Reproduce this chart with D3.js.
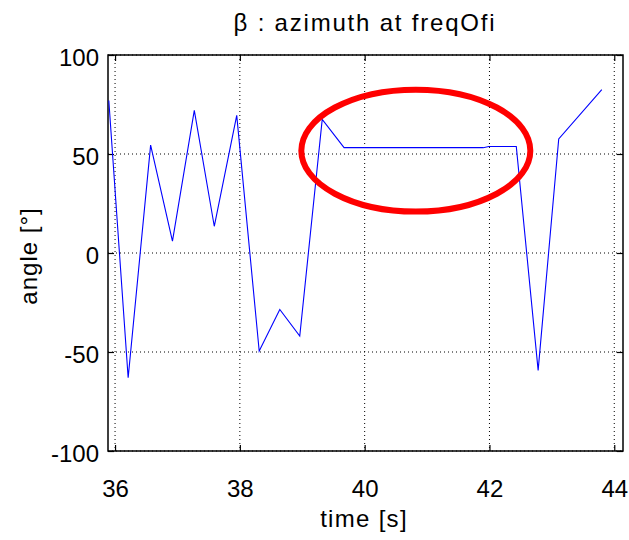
<!DOCTYPE html>
<html><head><meta charset="utf-8">
<script src="https://cdn.jsdelivr.net/npm/d3@7"></script>
<style>body{margin:0;background:#fff}svg{display:block}text{font-family:"Liberation Sans",Arial,sans-serif;fill:#000}</style>
</head><body><svg id="c" width="629" height="540"></svg>
<script>
const times  = [35.9, 36.21, 36.57, 36.92, 37.27, 37.59, 37.95, 38.31, 38.64, 38.96, 39.32, 39.67, 41.90, 41.99, 42.43, 42.78, 43.11, 43.80];
const angles = [77, -63, 54.5, 6, 72, 13.5, 69.5, -49.5, -28.5, -42, 67.5, 53.2, 53.2, 53.8, 53.8, -59.3, 57.6, 82.5];
const xTicks = [36, 38, 40, 42, 44];
const yTicks = [-100, -50, 0, 50, 100];
const highlight = {t: 40.82, v: 51.7, rt: 1.835, rv: 30.8};

const svg = d3.select("#c");
const L = 108, R = 623, T = 55, B = 451;
const x = d3.scaleLinear().domain([35.887, 44.14]).range([L, R]);
const y = d3.scaleLinear().domain([-100, 100]).range([B, T]);
const fmt = d => String(d);

// grid
const g = svg.append("g");
g.selectAll(".gx").data(xTicks).join("line")
  .attr("x1", d => x(d)).attr("x2", d => x(d)).attr("y1", T).attr("y2", B)
  .attr("stroke", "#000").attr("stroke-width", 1).attr("stroke-dasharray", "1,3");
g.selectAll(".gy").data(yTicks).join("line")
  .attr("x1", L).attr("x2", R).attr("y1", d => y(d)).attr("y2", d => y(d))
  .attr("stroke", "#000").attr("stroke-width", 1).attr("stroke-dasharray", "1,3");

// axes box and ticks
const tl = 6;
svg.append("g").attr("transform", `translate(0,${B})`)
  .call(d3.axisBottom(x).tickValues(xTicks).tickFormat(fmt).tickSizeInner(-tl).tickSizeOuter(0).tickPadding(29))
  .call(a => a.select(".domain").remove())
  .call(a => a.selectAll("text").attr("font-size", 24).attr("dy", "0.71em"));
svg.append("g").attr("transform", `translate(0,${T})`)
  .call(d3.axisTop(x).tickValues(xTicks).tickSizeInner(-tl).tickSizeOuter(0).tickFormat(""))
  .call(a => a.select(".domain").remove());
svg.append("g").attr("transform", `translate(${L},0)`)
  .call(d3.axisLeft(y).tickValues(yTicks).tickFormat(fmt).tickSizeInner(-tl).tickSizeOuter(0).tickPadding(9))
  .call(a => a.select(".domain").remove())
  .call(a => a.selectAll("text").attr("font-size", 24).attr("dy", "0.42em"));
svg.append("g").attr("transform", `translate(${R},0)`)
  .call(d3.axisRight(y).tickValues(yTicks).tickSizeInner(-tl).tickSizeOuter(0).tickFormat(""))
  .call(a => a.select(".domain").remove());
svg.selectAll(".tick line").attr("stroke", "#000").attr("stroke-width", 1.2);
svg.selectAll(".tick text").attr("fill", "#000").attr("font-family", '"Liberation Sans",Arial,sans-serif');
svg.append("rect").attr("x", L).attr("y", T).attr("width", R - L).attr("height", B - T)
  .attr("fill", "none").attr("stroke", "#000").attr("stroke-width", 1.5);

// line
const line = d3.line().x((d, i) => x(times[i])).y(d => y(d));
svg.append("path").datum(angles).attr("d", line)
  .attr("fill", "none").attr("stroke", "#0000ff").attr("stroke-width", 1.1);

// highlight ellipse
svg.append("ellipse")
  .attr("cx", x(highlight.t)).attr("cy", y(highlight.v))
  .attr("rx", x(highlight.t + highlight.rt) - x(highlight.t))
  .attr("ry", y(highlight.v - highlight.rv) - y(highlight.v))
  .attr("fill", "none").attr("stroke", "#ff0000").attr("stroke-width", 6);

// labels
svg.append("text").attr("x", 365).attr("y", 31).attr("text-anchor", "middle")
  .attr("font-size", 24).attr("letter-spacing", 1.8).text("β : azimuth at freqOfi");
svg.append("text").attr("x", 364).attr("y", 527).attr("text-anchor", "middle")
  .attr("font-size", 24).attr("letter-spacing", 1.3).text("time [s]");
svg.append("text").attr("transform", `translate(37,${(T + B) / 2 + 3}) rotate(-90)`).attr("text-anchor", "middle")
  .attr("font-size", 24).attr("letter-spacing", 1).text("angle [°]");
</script></body></html>
